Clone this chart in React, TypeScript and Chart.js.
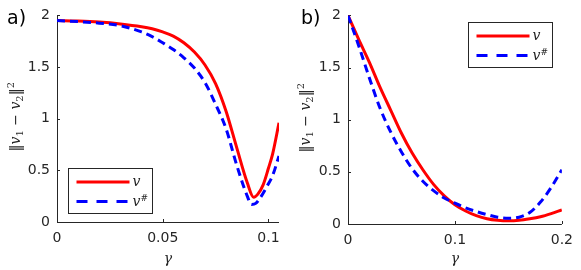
import { useEffect, useRef } from 'react';
import { Chart, registerables } from 'chart.js';

Chart.register(...registerables);

// ---- Panel a) data ----
const gammaA = [0, 0.01, 0.02, 0.03, 0.04, 0.045, 0.05, 0.055, 0.06, 0.065, 0.07, 0.075, 0.08, 0.085, 0.09, 0.093, 0.095, 0.0975, 0.1, 0.102, 0.105];
const vA = [1.95, 1.945, 1.935, 1.917, 1.89, 1.87, 1.84, 1.8, 1.735, 1.645, 1.52, 1.34, 1.07, 0.72, 0.38, 0.24, 0.27, 0.36, 0.52, 0.66, 0.96];
const gammaA2 = [0, 0.01, 0.02, 0.03, 0.04, 0.045, 0.05, 0.055, 0.06, 0.065, 0.07, 0.075, 0.08, 0.085, 0.09, 0.092, 0.094, 0.096, 0.1, 0.102, 0.105];
const vSharpA = [1.95, 1.94, 1.925, 1.9, 1.84, 1.795, 1.735, 1.67, 1.59, 1.49, 1.35, 1.14, 0.9, 0.55, 0.25, 0.17, 0.18, 0.23, 0.37, 0.45, 0.64];

// ---- Panel b) data ----
const gammaB = [0, 0.01, 0.02, 0.03, 0.04, 0.05, 0.06, 0.07, 0.08, 0.09, 0.1, 0.11, 0.12, 0.13, 0.14, 0.15, 0.16, 0.17, 0.18, 0.19, 0.2];
const vB = [2.0, 1.77, 1.55, 1.31, 1.09, 0.87, 0.68, 0.52, 0.38, 0.27, 0.185, 0.125, 0.08, 0.05, 0.035, 0.03, 0.035, 0.05, 0.07, 0.1, 0.135];
const vSharpB = [2.0, 1.71, 1.4, 1.11, 0.88, 0.69, 0.53, 0.41, 0.32, 0.25, 0.2, 0.155, 0.12, 0.09, 0.065, 0.055, 0.065, 0.11, 0.21, 0.35, 0.52];

const xTicksA = [0, 0.05, 0.1];
const xTicksB = [0, 0.1, 0.2];
const yTicks = [0, 0.5, 1, 1.5, 2];
const xRangeA = [0, 0.105];
const xRangeB = [0, 0.2];
const yRange = [0, 2];
const panelLabels = ['a)', 'b)'];
const seriesNames = ['v', 'v#'];

const AXIS = '#262626';
const SANS = '"DejaVu Sans", sans-serif';
const SERIF = '"DejaVu Serif", "Liberation Serif", serif';

type Part = { t: string; font: string; dy?: number };

function partsWidth(ctx: CanvasRenderingContext2D, parts: Part[]) {
  let w = 0;
  for (const p of parts) {
    ctx.font = p.font;
    w += ctx.measureText(p.t).width;
  }
  return w;
}

function drawParts(ctx: CanvasRenderingContext2D, parts: Part[], x: number, y: number) {
  let cx = x;
  for (const p of parts) {
    ctx.font = p.font;
    ctx.fillText(p.t, cx, y + (p.dy || 0));
    cx += ctx.measureText(p.t).width;
  }
}

interface PanelCfg {
  label: string;
  legend: { x: number; y: number };
}

function makePlugin(cfg: PanelCfg) {
  return {
    id: 'matlabStyle',
    beforeDatasetsDraw(chart: any) {
      const { ctx, chartArea: a, scales } = chart;
      ctx.save();
      ctx.strokeStyle = AXIS;
      ctx.lineWidth = 1;
      ctx.beginPath();
      ctx.moveTo(a.left + 0.5, a.top);
      ctx.lineTo(a.left + 0.5, a.bottom + 0.5);
      ctx.lineTo(a.right, a.bottom + 0.5);
      ctx.stroke();
      ctx.beginPath();
      for (const t of scales.x.ticks) {
        const px = Math.round(scales.x.getPixelForValue(t.value)) + 0.5;
        ctx.moveTo(px, a.bottom);
        ctx.lineTo(px, a.bottom - 3);
      }
      for (const t of scales.y.ticks) {
        const py = Math.round(scales.y.getPixelForValue(t.value)) + 0.5;
        ctx.moveTo(a.left, py);
        ctx.lineTo(a.left + 3, py);
      }
      ctx.stroke();
      ctx.restore();
    },
    afterDraw(chart: any) {
      const { ctx, chartArea: a } = chart;
      ctx.save();
      // legend box
      const lx = cfg.legend.x + 0.5;
      const ly = cfg.legend.y + 0.5;
      const lw = 84;
      const lh = 45;
      ctx.fillStyle = '#ffffff';
      ctx.fillRect(lx, ly, lw, lh);
      ctx.strokeStyle = AXIS;
      ctx.lineWidth = 1;
      ctx.strokeRect(lx, ly, lw, lh);
      ctx.lineWidth = 3;
      ctx.strokeStyle = '#ff0000';
      ctx.setLineDash([]);
      ctx.beginPath();
      ctx.moveTo(lx + 8, ly + 13.5);
      ctx.lineTo(lx + 61, ly + 13.5);
      ctx.stroke();
      ctx.strokeStyle = '#0000ff';
      ctx.setLineDash([11, 9]);
      ctx.beginPath();
      ctx.moveTo(lx + 8, ly + 33);
      ctx.lineTo(lx + 61, ly + 33);
      ctx.stroke();
      ctx.setLineDash([]);
      ctx.fillStyle = AXIS;
      ctx.textBaseline = 'alphabetic';
      ctx.textAlign = 'left';
      const it = 'italic 14px ' + SERIF;
      drawParts(ctx, [{ t: seriesNames[0], font: it }], lx + 64, ly + 17);
      drawParts(ctx, [
        { t: seriesNames[1].charAt(0), font: it },
        { t: seriesNames[1].slice(1), font: 'italic 9px ' + SERIF, dy: -5 },
      ], lx + 64, ly + 37);

      // x axis label
      ctx.font = it;
      ctx.textAlign = 'center';
      ctx.fillText('γ', (a.left + a.right) / 2, 263);

      // y axis label
      ctx.textAlign = 'left';
      const up = '14px ' + SERIF;
      const sub = '10px ' + SERIF;
      const parts: Part[] = [
        { t: '‖', font: up },
        { t: 'v', font: it },
        { t: '1', font: sub, dy: 3 },
        { t: ' − ', font: up },
        { t: 'v', font: it },
        { t: '2', font: sub, dy: 3 },
        { t: '‖', font: up },
        { t: '2', font: sub, dy: -6 },
      ];
      const w = partsWidth(ctx, parts);
      ctx.translate(20, (a.top + a.bottom) / 2 - 2);
      ctx.rotate(-Math.PI / 2);
      drawParts(ctx, parts, -w / 2, 0);
      ctx.restore();

      // panel label
      ctx.save();
      ctx.fillStyle = '#000000';
      ctx.font = '19px ' + SANS;
      ctx.textAlign = 'left';
      ctx.textBaseline = 'alphabetic';
      ctx.fillText(cfg.label, 7 + (cfg.label === panelLabels[1] ? 4 : 0), 24);
      ctx.restore();
    },
  };
}

function buildConfig(
  gx1: number[], y1: number[], gx2: number[], y2: number[],
  xTicks: number[], xRange: number[], padRight: number, xAxisH: number, yAxisW: number,
  cfg: PanelCfg,
): any {
  return {
    type: 'line',
    data: {
      datasets: [
        {
          label: seriesNames[0],
          data: gx1.map((g, i) => ({ x: g, y: y1[i] })),
          borderColor: '#ff0000',
          borderWidth: 3,
          pointRadius: 0,
          cubicInterpolationMode: 'monotone',
          order: 1,
        },
        {
          label: seriesNames[1],
          data: gx2.map((g, i) => ({ x: g, y: y2[i] })),
          borderColor: '#0000ff',
          borderWidth: 3,
          borderDash: [8, 5],
          pointRadius: 0,
          cubicInterpolationMode: 'monotone',
          order: 0,
        },
      ],
    },
    options: {
      animation: false,
      responsive: false,
      maintainAspectRatio: false,
      layout: { padding: { top: 6, right: padRight, left: 0, bottom: 0 } },
      plugins: { legend: { display: false }, tooltip: { enabled: false } },
      scales: {
        x: {
          type: 'linear',
          min: xRange[0],
          max: xRange[1],
          grid: { display: false, drawTicks: false },
          border: { display: false },
          afterBuildTicks: (s: any) => { s.ticks = xTicks.map((v) => ({ value: v })); },
          afterFit: (s: any) => { s.height = xAxisH; },
          ticks: {
            padding: 8,
            color: AXIS,
            font: { family: SANS, size: 14 },
            maxRotation: 0,
            autoSkip: false,
            callback: (v: number) => String(v),
          },
        },
        y: {
          type: 'linear',
          min: yRange[0],
          max: yRange[1],
          grid: { display: false, drawTicks: false },
          border: { display: false },
          afterBuildTicks: (s: any) => { s.ticks = yTicks.map((v) => ({ value: v })); },
          afterFit: (s: any) => { s.width = yAxisW; },
          ticks: {
            padding: 7,
            color: AXIS,
            font: { family: SANS, size: 14 },
            autoSkip: false,
            callback: (v: number) => String(v),
          },
        },
      },
    },
    plugins: [makePlugin(cfg)],
  };
}

function Panel(props: { config: () => any; left: number; width: number }) {
  const ref = useRef<HTMLCanvasElement | null>(null);
  useEffect(() => {
    if (!ref.current) return;
    const chart = new Chart(ref.current, props.config());
    return () => chart.destroy();
  }, []);
  return (
    <canvas
      ref={ref}
      width={props.width}
      height={270}
      style={{ position: 'absolute', left: props.left, top: 0, width: props.width, height: 270 }}
    />
  );
}

export default function App() {
  return (
    <div style={{ position: 'fixed', left: 0, top: 0, width: 581, height: 270, background: '#ffffff' }}>
      <Panel
        left={0}
        width={290}
        config={() => buildConfig(gammaA, vA, gammaA2, vSharpA, xTicksA, xRangeA, 11, 48, 57,
          { label: panelLabels[0], legend: { x: 68, y: 168 } })}
      />
      <Panel
        left={290}
        width={291}
        config={() => buildConfig(gammaB, vB, gammaB, vSharpB, xTicksB, xRangeB, 12, 46, 58,
          { label: panelLabels[1], legend: { x: 178, y: 22 } })}
      />
    </div>
  );
}
